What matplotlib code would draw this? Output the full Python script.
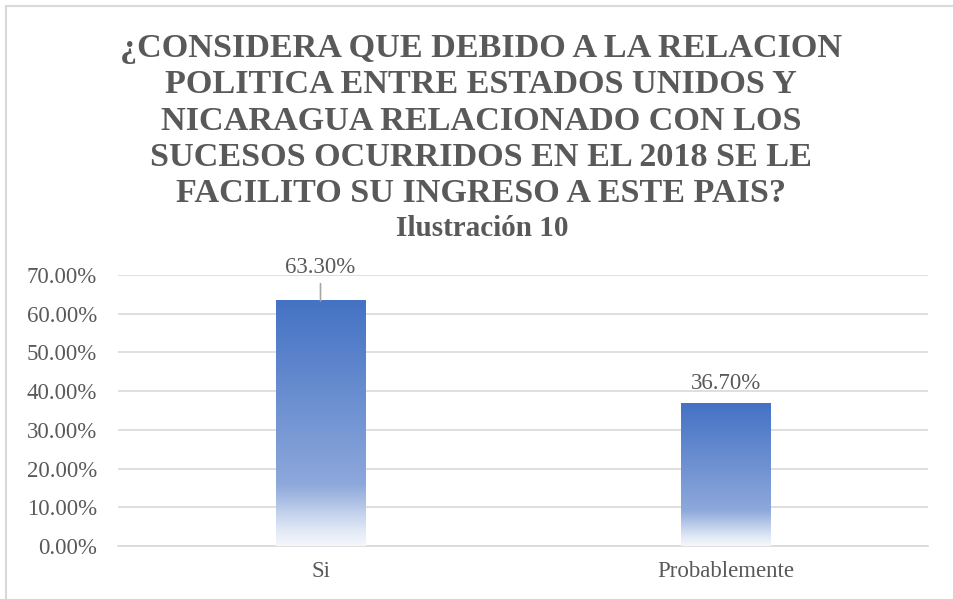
import numpy as np
import matplotlib
matplotlib.use('Agg')
import matplotlib.pyplot as plt
from matplotlib.colors import LinearSegmentedColormap
from matplotlib.patches import Rectangle

# data
categories = ['Si', 'Probablemente']
values = [0.633, 0.367]
value_labels = ['63.30%', '36.70%']
yticks = [0.0, 0.1, 0.2, 0.3, 0.4, 0.5, 0.6, 0.7]

title = ('¿CONSIDERA QUE DEBIDO A LA RELACION\nPOLITICA ENTRE ESTADOS UNIDOS Y\n'
         'NICARAGUA RELACIONADO CON LOS\nSUCESOS OCURRIDOS EN EL 2018 SE LE\n'
         'FACILITO SU INGRESO A ESTE PAIS?')
subtitle = 'Ilustración 10'

plt.rcParams['font.family'] = ['Liberation Serif', 'DejaVu Serif']
text_color = '#595959'
grid_color = '#D9D9D9'
fs = 16.5

fig = plt.figure(figsize=(9.54, 5.99), dpi=100)
ax = fig.add_axes([118 / 954, 1 - 546 / 599, 810 / 954, 271 / 599])

# gradient fill: bottom (pale) -> top (blue)
cmap = LinearSegmentedColormap.from_list(
    'bar', [(0.0, '#F4F7FC'), (0.06, '#E3EAF6'), (0.25, '#8DA8DB'), (1.0, '#4472C4')])
grad = np.linspace(0, 1, 256).reshape(-1, 1)
width = 0.22
x = np.arange(len(categories))
for xi, v in zip(x, values):
    ax.imshow(grad, cmap=cmap, origin='lower', aspect='auto',
              extent=[xi - width / 2, xi + width / 2, 0, v], zorder=3)

# labels
ax.annotate(value_labels[0], xy=(x[0], values[0]), xytext=(0, 16.5),
            textcoords='offset points', ha='center', va='bottom',
            fontsize=fs, color=text_color,
            arrowprops=dict(arrowstyle='-', color='#A6A6A6', lw=1.2,
                            shrinkA=2, shrinkB=0))
ax.annotate(value_labels[1], xy=(x[1], values[1]), xytext=(0, 7),
            textcoords='offset points', ha='center', va='bottom',
            fontsize=fs, color=text_color)

ax.set_xlim(-0.5, 1.5)
ax.set_ylim(0, 0.7)
ax.set_xticks(x)
ax.set_xticklabels(categories, fontsize=fs, color=text_color)
ax.set_yticks(yticks)
ax.set_yticklabels(['{:.2f}%'.format(t * 100) for t in yticks], fontsize=fs, color=text_color)
ax.tick_params(length=0)
ax.tick_params(axis='y', pad=15)
ax.tick_params(axis='x', pad=11)
ax.grid(axis='y', color=grid_color, lw=1.2, zorder=0)
ax.set_axisbelow(True)
for s in ['top', 'right', 'left']:
    ax.spines[s].set_visible(False)
ax.spines['bottom'].set_color(grid_color)
ax.spines['bottom'].set_linewidth(1.2)

fig.text(481 / 954, 1 - 33 / 599, title, ha='center', va='top', fontsize=24.6,
         fontweight='bold', color=text_color, linespacing=1.22)
fig.text(482 / 954, 1 - 228 / 599, subtitle, ha='center', va='center', fontsize=21,
         fontweight='bold', color=text_color)

# outer chart border
fig.patches.append(Rectangle((6 / 954, -0.01), 1.0, 1 - 6 / 599 + 0.01,
                             transform=fig.transFigure, fill=False,
                             edgecolor=grid_color, lw=1.5))

fig.savefig('out.png', dpi=100)
